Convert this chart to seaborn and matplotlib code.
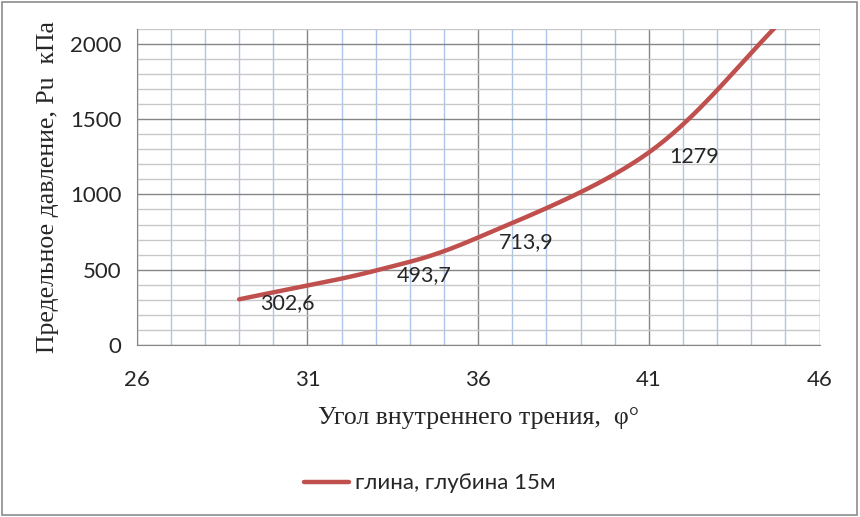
import numpy as np
import pandas as pd
import matplotlib.pyplot as plt
import seaborn as sns
from matplotlib.patches import Rectangle

# data
phi = [29, 33, 36, 41, 45]
pu = [302.6, 493.7, 713.9, 1279, 2180]
point_labels = ["302,6", "493,7", "713,9", "1279", ""]
series_name = "глина, глубина 15м"


def smooth(xs, ys, n=40):
    # Catmull-Rom spline through the points, like Excel's smoothed line
    x = np.asarray(xs, float)
    y = np.asarray(ys, float)
    px = np.concatenate([[2 * x[0] - x[1]], x, [2 * x[-1] - x[-2]]])
    py = np.concatenate([[2 * y[0] - y[1]], y, [2 * y[-1] - y[-2]]])
    outx, outy = [], []
    t = np.linspace(0, 1, n)
    for i in range(1, len(px) - 2):
        for p, out in ((px, outx), (py, outy)):
            p0, p1, p2, p3 = p[i - 1], p[i], p[i + 1], p[i + 2]
            out.extend(0.5 * ((2 * p1) + (-p0 + p2) * t
                              + (2 * p0 - 5 * p1 + 4 * p2 - p3) * t ** 2
                              + (-p0 + 3 * p1 - 3 * p2 + p3) * t ** 3))
    return np.array(outx), np.array(outy)


sx, sy = smooth(phi, pu)
df = pd.DataFrame({"phi": sx, "pu": sy})

sns.set_style("white")
plt.rcParams["font.family"] = ["Lato", "DejaVu Sans"]

fig = plt.figure(figsize=(8.6, 5.17), dpi=100)
ax = fig.add_axes([0.159, 0.333, 0.794, 0.611])

sns.lineplot(data=df, x="phi", y="pu", sort=False, color="#C0504D",
             linewidth=3.2, label=series_name, ax=ax, zorder=5)

for x, y, t in zip(phi, pu, point_labels):
    if t:
        ax.annotate(t, (x, y), xytext=(15, -3), textcoords="offset points",
                    ha="left", va="center", fontsize=15.5, zorder=6)

ax.set_xlim(26, 46)
ax.set_ylim(0, 2100)
ax.set_xticks([26, 31, 36, 41, 46])
ax.set_yticks([0, 500, 1000, 1500, 2000])
ax.set_xticks(np.arange(26, 47, 1), minor=True)
ax.set_yticks(np.arange(0, 2101, 100), minor=True)
ax.grid(which="minor", axis="x", color="#adc6ea", linewidth=1)
ax.grid(which="minor", axis="y", color="#c8c8c8", linewidth=1)
ax.grid(which="major", color="#868686", linewidth=1)
ax.set_axisbelow(True)
ax.tick_params(axis="both", which="major", labelsize=16, length=6,
               color="#868686", width=1)
ax.tick_params(axis="both", which="minor", length=0)
ax.tick_params(axis="x", pad=12)
ax.tick_params(axis="y", pad=5)
for s in ["top", "right"]:
    ax.spines[s].set_visible(False)
for s in ["left", "bottom"]:
    ax.spines[s].set_color("#868686")

ax.set_xlabel("Угол внутреннего трения,  φ°", family="Liberation Serif",
              fontsize=18.5, labelpad=12)
ax.set_ylabel("Предельное давление, Pu  кПа", family="Liberation Serif",
              fontsize=18.5, labelpad=8)

ax.get_legend().remove()
handles, labels = ax.get_legend_handles_labels()
fig.legend(handles, labels, loc="center", bbox_to_anchor=(0.5, 0.065),
           frameon=False, fontsize=16, handlelength=2.0, handletextpad=0.3)

fig.patches.append(Rectangle((0.002, 0.004), 0.994, 0.992, transform=fig.transFigure,
                             fill=False, edgecolor="#8c8c8c", linewidth=1.2))

fig.savefig("out.png", dpi=100)
